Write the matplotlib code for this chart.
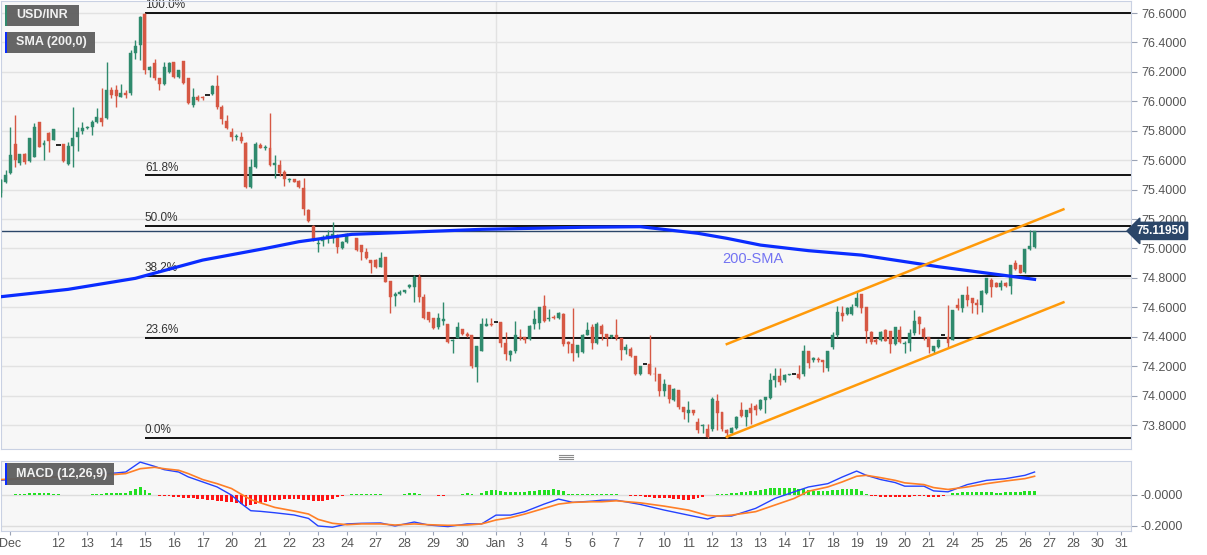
import numpy as np
import matplotlib.pyplot as plt
from matplotlib.patches import Rectangle
from matplotlib.lines import Line2D
import matplotlib.transforms as mtransforms

plt.rcParams['font.family'] = ['Liberation Sans', 'DejaVu Sans']

# ---- candles (one per 4h bar) ----
opens = [75.375, 75.45, 75.51, 75.71, 75.578, 75.64, 75.596, 75.62, 75.857, 75.70,
         75.786, 75.737, 75.70, 75.71, 75.573, 75.697, 75.757, 75.80, 75.816, 75.827,
         75.861, 75.89, 75.884, 76.08, 76.08, 76.03, 76.055, 76.054, 76.33, 76.38,
         76.593, 76.213, 76.262, 76.156, 76.117, 76.20, 76.265, 76.167, 76.274, 76.156,
         75.975, 76.03, 76.03, 76.043, 76.05, 76.104, 75.96, 75.868, 75.79, 75.755,
         75.76, 75.718, 75.42, 75.555, 75.703, 75.68, 75.68, 75.566, 75.566, 75.52,
         75.463, 75.47, 75.458, 75.408, 75.261, 75.155, 75.03, 75.053, 75.068, 75.068,
         75.086, 75.0, 75.045, np.nan, 75.074, 75.023, 74.978, 74.92, 74.92, 74.875,
         74.94, 74.778, 74.68, 74.69, 74.706, 74.735, 74.735, 74.804, 74.672, 74.57,
         74.525, 74.468, 74.51, 74.484, 74.37, 74.39, 74.455, 74.422, 74.41, 74.195,
         74.305, 74.476, 74.49, 74.50, 74.50, 74.357, 74.275, 74.305, 74.40, 74.395,
         74.385, 74.49, 74.495, 74.61, 74.52, 74.535, 74.525, 74.555, 74.365, 74.35,
         74.29, 74.295, 74.415, 74.467, 74.36, 74.47, 74.42, 74.395, 74.41, 74.39,
         74.31, 74.32, 74.27, 74.144, 74.217, 74.217, 74.15, 74.144, 74.03, 74.07,
         73.97, 74.04, 73.925, 73.885, 73.90, 73.822, 73.79, 73.77, 73.77, 73.963,
         73.89, 73.765, 73.745, 73.78, 73.90, 73.855, 73.915, 73.93, 73.91, 73.97,
         73.985, 74.105, 74.13, 74.105, 74.14, 74.15, 74.147, 74.15, 74.305, 74.24,
         74.25, 74.24, 74.185, 74.33, 74.41, 74.56, 74.555, 74.555, 74.607, 74.688,
         74.60, 74.434, 74.377, 74.377, 74.446, 74.44, 74.35, 74.446, 74.35, 74.357,
         74.425, 74.535, 74.456, 74.395, 74.30, 74.33, 74.41, 74.40, 74.38, 74.615,
         74.593, 74.683, 74.665, 74.63, 74.615, 74.695, 74.785, 74.763, 74.74, 74.768,
         74.745, 74.904, 74.886, 74.84, 74.995, 75.01]
highs = [75.47, 75.533, 75.827, 75.907, 75.64, 75.65, 75.75, 75.85, 75.86, 75.737,
         75.79, 75.81, 75.70, 75.71, 75.725, 75.963, 75.827, 75.86, 75.83, 75.873,
         75.952, 76.09, 76.267, 76.10, 76.11, 76.117, 76.08, 76.35, 76.417, 76.58,
         76.60, 76.24, 76.29, 76.16, 76.265, 76.265, 76.27, 76.213, 76.274, 76.16,
         76.088, 76.04, 76.035, 76.043, 76.11, 76.176, 75.975, 75.907, 75.816, 75.775,
         75.79, 75.725, 75.605, 75.725, 75.715, 75.70, 75.923, 75.635, 75.60, 75.53,
         75.48, 75.47, 75.465, 75.476, 75.27, 75.16, 75.068, 75.09, 75.125, 75.18,
         75.10, 75.05, 75.105, np.nan, 75.074, 75.023, 75.0, 74.925, 74.93, 74.978,
         74.94, 74.778, 74.706, 74.715, 74.72, 74.76, 74.82, 74.826, 74.69, 74.57,
         74.525, 74.56, 74.634, 74.49, 74.385, 74.50, 74.455, 74.43, 74.41, 74.338,
         74.525, 74.525, 74.525, 74.50, 74.50, 74.43, 74.31, 74.51, 74.455, 74.40,
         74.48, 74.58, 74.60, 74.683, 74.588, 74.545, 74.565, 74.56, 74.37, 74.593,
         74.345, 74.42, 74.50, 74.49, 74.50, 74.49, 74.42, 74.415, 74.52, 74.39,
         74.35, 74.33, 74.27, 74.20, 74.217, 74.41, 74.195, 74.144, 74.11, 74.07,
         74.05, 74.04, 73.925, 73.96, 73.90, 73.845, 73.806, 73.806, 73.992, 74.008,
         73.89, 73.77, 73.785, 73.86, 73.955, 73.905, 73.95, 73.944, 73.975, 73.993,
         74.155, 74.185, 74.185, 74.15, 74.15, 74.15, 74.21, 74.344, 74.305, 74.26,
         74.26, 74.245, 74.305, 74.434, 74.61, 74.61, 74.60, 74.62, 74.706, 74.69,
         74.60, 74.44, 74.39, 74.44, 74.45, 74.44, 74.467, 74.47, 74.37, 74.455,
         74.58, 74.54, 74.466, 74.40, 74.34, 74.385, 74.41, 74.615, 74.58, 74.66,
         74.683, 74.745, 74.665, 74.655, 74.717, 74.80, 74.797, 74.77, 74.785, 74.775,
         74.89, 74.925, 74.89, 74.995, 75.125, 75.12]
lows = [75.35, 75.447, 75.506, 75.555, 75.57, 75.575, 75.59, 75.62, 75.69, 75.60,
        75.657, 75.737, 75.70, 75.59, 75.566, 75.555, 75.664, 75.78, 75.81, 75.77,
        75.85, 75.83, 75.88, 76.02, 75.96, 76.027, 76.02, 76.04, 76.29, 76.28,
        76.185, 76.163, 76.145, 76.077, 76.11, 76.19, 76.16, 76.16, 76.12, 75.98,
        75.96, 76.0, 76.01, 76.043, 76.045, 75.95, 75.845, 75.81, 75.732, 75.74,
        75.72, 75.41, 75.41, 75.55, 75.68, 75.67, 75.56, 75.476, 75.49, 75.426,
        75.455, 75.45, 75.41, 75.227, 75.18, 75.05, 74.978, 75.018, 75.034, 75.035,
        74.967, 74.995, 75.04, np.nan, 74.985, 74.92, 74.93, 74.83, 74.87, 74.875,
        74.77, 74.563, 74.61, 74.685, 74.70, 74.73, 74.634, 74.638, 74.52, 74.50,
        74.455, 74.455, 74.48, 74.36, 74.29, 74.39, 74.41, 74.40, 74.19, 74.09,
        74.30, 74.475, 74.475, 74.50, 74.33, 74.245, 74.236, 74.29, 74.38, 74.36,
        74.38, 74.45, 74.45, 74.50, 74.51, 74.52, 74.52, 74.34, 74.287, 74.237,
        74.264, 74.29, 74.41, 74.32, 74.35, 74.38, 74.34, 74.39, 74.38, 74.245,
        74.28, 74.26, 74.14, 74.14, 74.217, 74.14, 74.10, 74.0, 74.0, 73.947,
        73.965, 73.91, 73.84, 73.82, 73.87, 73.748, 73.745, 73.71, 73.76, 73.765,
        73.76, 73.715, 73.74, 73.775, 73.855, 73.79, 73.81, 73.87, 73.905, 73.88,
        73.975, 74.06, 74.07, 74.095, 74.14, 74.15, 74.11, 74.13, 74.185, 74.23,
        74.23, 74.16, 74.17, 74.32, 74.40, 74.51, 74.55, 74.547, 74.605, 74.564,
        74.36, 74.35, 74.35, 74.37, 74.37, 74.287, 74.345, 74.355, 74.29, 74.30,
        74.41, 74.42, 74.378, 74.29, 74.28, 74.325, 74.41, 74.33, 74.375, 74.58,
        74.57, 74.61, 74.56, 74.555, 74.565, 74.69, 74.67, 74.735, 74.72, 74.74,
        74.69, 74.855, 74.83, 74.83, 74.99, 75.0]
closes = [75.465, 75.50, 75.635, 75.60, 75.64, 75.59, 75.748, 75.827, 75.69, 75.72,
          75.732, 75.81, 75.70, 75.596, 75.697, 75.748, 75.793, 75.82, 75.827, 75.861,
          75.891, 75.86, 76.08, 76.04, 76.035, 76.054, 76.04, 76.326, 76.376, 76.575,
          76.213, 76.235, 76.156, 76.117, 76.235, 76.258, 76.163, 76.213, 76.126, 75.986,
          76.03, 76.01, 76.02, 76.043, 76.104, 75.963, 75.878, 75.816, 75.755, 75.765,
          75.732, 75.42, 75.555, 75.71, 75.68, 75.69, 75.566, 75.582, 75.514, 75.47,
          75.47, 75.454, 75.42, 75.266, 75.188, 75.057, 75.04, 75.075, 75.09, 75.097,
          75.012, 75.045, 75.10, np.nan, 74.99, 74.978, 74.933, 74.90, 74.875, 74.933,
          74.774, 74.668, 74.69, 74.706, 74.717, 74.75, 74.808, 74.668, 74.53, 74.514,
          74.46, 74.525, 74.52, 74.366, 74.38, 74.467, 74.422, 74.405, 74.20, 74.338,
          74.49, 74.485, 74.48, 74.50, 74.357, 74.285, 74.30, 74.41, 74.39, 74.38,
          74.473, 74.518, 74.60, 74.51, 74.53, 74.525, 74.56, 74.35, 74.35, 74.29,
          74.345, 74.415, 74.447, 74.36, 74.49, 74.42, 74.39, 74.41, 74.39, 74.31,
          74.33, 74.27, 74.144, 74.20, 74.217, 74.144, 74.144, 74.033, 74.077, 73.974,
          74.045, 73.92, 73.89, 73.90, 73.88, 73.766, 73.80, 73.72, 73.974, 73.883,
          73.77, 73.743, 73.78, 73.857, 73.86, 73.90, 73.88, 73.90, 73.97, 73.99,
          74.106, 74.13, 74.095, 74.14, 74.147, 74.15, 74.117, 74.305, 74.22, 74.255,
          74.24, 74.23, 74.305, 74.41, 74.57, 74.54, 74.593, 74.605, 74.66, 74.593,
          74.44, 74.366, 74.366, 74.434, 74.373, 74.35, 74.467, 74.366, 74.357, 74.425,
          74.51, 74.49, 74.396, 74.33, 74.337, 74.38, 74.41, 74.36, 74.58, 74.593,
          74.683, 74.65, 74.63, 74.615, 74.713, 74.797, 74.74, 74.74, 74.763, 74.745,
          74.89, 74.863, 74.835, 74.995, 75.02, 75.1195]

# 200-period SMA, read at a few bars
sma_pos = [0, 14, 28, 42, 55, 62, 73, 79, 100, 121, 133, 145, 151, 158, 168, 179, 195, 215]
sma_val = [74.672, 74.722, 74.797, 74.921, 75.0, 75.046, 75.096, 75.103, 75.13, 75.144,
           75.148, 75.103, 75.069, 75.023, 74.985, 74.955, 74.876, 74.79]

# MACD (12,26,9) lines, read at a few bars
macd_pos = [0, 24, 26, 29, 32, 34, 37, 39, 42, 45, 48, 50, 52, 54, 57, 61, 64, 66, 69, 72,
            75, 79, 82, 86, 89, 93, 97, 100, 103, 106, 109, 113, 116, 119, 123, 125, 128,
            133, 138, 143, 147, 149, 152, 157, 161, 165, 168, 172, 175, 178, 180, 183, 186,
            188, 192, 194, 197, 201, 205, 209, 213, 215]
macd_val = [0.091, 0.137, 0.143, 0.206, 0.179, 0.158, 0.143, 0.112, 0.080, 0.048, -0.004,
            -0.057, -0.103, -0.107, -0.116, -0.130, -0.152, -0.200, -0.208, -0.187, -0.183,
            -0.181, -0.200, -0.175, -0.194, -0.204, -0.187, -0.187, -0.131, -0.131, -0.109,
            -0.061, -0.029, -0.050, -0.042, -0.036, -0.036, -0.063, -0.099, -0.131, -0.156,
            -0.137, -0.137, -0.088, -0.025, 0.017, 0.048, 0.069, 0.111, 0.149, 0.122, 0.095,
            0.076, 0.053, 0.053, 0.023, 0.017, 0.063, 0.090, 0.101, 0.122, 0.143]
signal_val = [0.095, 0.128, 0.133, 0.164, 0.173, 0.164, 0.154, 0.133, 0.095, 0.069, 0.038,
              0.002, -0.032, -0.053, -0.082, -0.105, -0.124, -0.158, -0.183, -0.192, -0.187,
              -0.187, -0.194, -0.187, -0.192, -0.196, -0.194, -0.187, -0.162, -0.147, -0.124,
              -0.088, -0.061, -0.050, -0.046, -0.046, -0.040, -0.053, -0.074, -0.099, -0.133,
              -0.137, -0.131, -0.109, -0.067, -0.025, 0.021, 0.048, 0.080, 0.116, 0.122, 0.107,
              0.090, 0.074, 0.063, 0.044, 0.032, 0.048, 0.069, 0.086, 0.101, 0.116]
hist_val = [-10, -5, 0, 2, 3, 5, 8, 10, 10, 8, 8, 6, 2, -3, -5, -6, -5, -3,
            0, 2, 4, 6, 8, 10, 10, 11, 12, 20, 32, 45, 30, 10, -3, -8, -10, -12,
            -15, -18, -20, -22, -25, -28, -30, -32, -35, -40, -42, -45, -50, -55, -60, -70, -65, -58,
            -55, -50, -40, -35, -33, -30, -27, -28, -30, -32, -35, -40, -42, -40, -35, -28, -15, -8,
            0, 3, 4, 5, 6, 6, 5, 3, -2, -6, -6, -4, 6, 10, 12, 6, 0, -2,
            -5, -8, -8, -6, -3, 0, 5, 7, 3, 0, 10, 20, 28, 30, 25, 18, 15, 15,
            15, 18, 22, 25, 27, 28, 30, 32, 30, 20, 5, 2, 2, 3, 4, 5, 6, 6,
            5, 4, 2, 0, -5, -8, -10, -12, -15, -18, -20, -22, -24, -25, -28, -30, -32, -32,
            -28, -22, -15, -5, 0, 2, 3, 5, 8, 10, 15, 18, 20, 25, 30, 35, 40, 42,
            43, 44, 42, 40, 38, 35, 30, 25, 22, 22, 24, 28, 30, 32, 33, 33, 33, 20,
            5, -10, -12, -14, -15, -16, -16, -16, -15, -14, -12, -10, -12, -14, -15, -15, -12, -5,
            8, 12, 14, 15, 15, 16, 18, 16, 14, 12, 12, 14, 15, 16, 18, 20, 22, 24]

# Fibonacci retracement of the 76.60 top / 73.71 bottom
fib_high = 76.60
fib_low = 73.71
fib_ratios = [1.0, 0.618, 0.5, 0.382, 0.236, 0.0]
fib_labels = ['100.0%', '61.8%', '50.0%', '38.2%', '23.6%', '0.0%']
fib_start = 30

# rising channel
chan_pos = [151, 221]
chan_upper = [74.35, 75.266]
chan_lower = [73.72, 74.634]

last_price = 75.1195

tick_pos = [2, 12, 18, 24, 30, 36, 42, 48, 54, 60, 66, 72, 78, 84, 90, 96, 103, 108, 113,
            118, 123, 128, 133, 138, 143, 148, 153, 158, 163, 168, 173, 178, 183, 188, 193,
            198, 203, 208, 213, 218, 223, 228, 233]
tick_labels = ['Dec', '12', '13', '14', '15', '16', '17', '20', '21', '22', '23', '24', '27',
               '28', '29', '30', 'Jan', '3', '4', '5', '6', '7', '7', '10', '11', '12', '13',
               '13', '14', '17', '18', '19', '19', '20', '21', '24', '25', '25', '26', '27',
               '28', '30', '31']

W, H = 1207, 555
fig = plt.figure(figsize=(W / 100, H / 100), dpi=100)
fig.patch.set_facecolor('white')

ax = fig.add_axes([0.001, 1 - 449 / H, 1130 / W, 448 / H])
axm = fig.add_axes([0.001, 1 - 531 / H, 1130 / W, 70 / H])

green = '#2f8a6d'
red = '#d65844'
border = '#c9d1e3'

x = np.arange(len(closes))
o = np.array(opens)
c = np.array(closes)
hi = np.array(highs)
lo = np.array(lows)

for a in (ax, axm):
    a.set_facecolor('#f7f7f7')
    a.set_xlim(0.1, 235.1)
    for s in a.spines.values():
        s.set_color(border)
    a.axvline(103, color='#e2e2e2', lw=1, zorder=0)

# candles
valid = ~np.isnan(c)
doji = valid & (np.abs(c - o) < 0.002)
up = valid & (c > o) & ~doji
down = valid & (c < o) & ~doji
for mask, col in ((up, green), (down, red)):
    ax.vlines(x[mask], lo[mask], hi[mask], color=col, lw=1, zorder=3)
    body = np.maximum(np.abs(c[mask] - o[mask]), 0.005)
    ax.bar(x[mask], body, bottom=np.minimum(o[mask], c[mask]), width=0.62,
           color=col, edgecolor=col, lw=0.3, zorder=4)
ax.hlines(c[doji], x[doji] - 0.45, x[doji] + 0.45, color='black', lw=1.2, zorder=4)

# fib levels
for r, lab in zip(fib_ratios, fib_labels):
    lvl = fib_low + (fib_high - fib_low) * r
    ax.hlines(lvl, fib_start, 235.1, color='black', lw=1.3, zorder=2)
    ax.text(fib_start, lvl + 0.012, lab, fontsize=8.5, color='#333333',
            ha='left', va='bottom', zorder=2)

# SMA, last price, channel
ax.plot(sma_pos, sma_val, color='#0a2cff', lw=2.3, zorder=5)
ax.axhline(last_price, color='#2b4669', lw=1, zorder=2)
ax.plot(chan_pos, chan_upper, color='#ff9a0a', lw=1.8, zorder=5)
ax.plot(chan_pos, chan_lower, color='#ff9a0a', lw=1.8, zorder=5)
ax.text(150, 74.926, '200-SMA', color='#7373f2', fontsize=10.5, va='center', ha='left')

ax.set_ylim(73.637, 76.682)
ax.set_yticks(np.arange(73.8, 76.61, 0.2))
ax.yaxis.grid(True, color='#e2e2e2', lw=1)
ax.set_axisbelow(True)
ax.yaxis.tick_right()
ax.set_yticklabels(['%.4f' % v for v in np.arange(73.8, 76.61, 0.2)])
ax.tick_params(axis='y', labelsize=9, colors='#555555', length=4, pad=3)
ax.tick_params(axis='y', color='#9aa3b5')
ax.set_xticks([])

trans = mtransforms.blended_transform_factory(ax.transAxes, ax.transData)
ax.text(1.0045, last_price, '75.11950', transform=trans, fontsize=8.5, fontweight='bold',
        color='white', va='center', ha='left', zorder=10, clip_on=False,
        bbox=dict(boxstyle='larrow,pad=0.22', fc='#2b4669', ec='#2b4669'))

# MACD panel
hv = np.array(hist_val) / 1000.0
axm.bar(x, hv, width=0.6, color=np.where(hv >= 0, '#22e022', '#ff1414'), zorder=2)
axm.plot(macd_pos, macd_val, color='#2442ff', lw=1, zorder=3)
axm.plot(macd_pos, signal_val, color='#ff7f27', lw=1.2, zorder=3)
axm.set_ylim(-0.232, 0.213)
axm.set_yticks([0.0, -0.2])
axm.yaxis.grid(True, color='#dddddd', lw=1)
axm.set_axisbelow(True)
axm.yaxis.tick_right()
axm.set_yticklabels(['-0.0000', '-0.2000'])
axm.tick_params(axis='y', labelsize=9, colors='#555555', length=4, pad=3)
axm.tick_params(axis='y', color='#9aa3b5')
axm.set_xticks(tick_pos)
axm.set_xticklabels(tick_labels)
axm.tick_params(axis='x', labelsize=9, colors='#555555', length=3, pad=2)
axm.tick_params(axis='x', color='#9aa3b5')


def px_rect(x0, y0, x1, y1, col, z=10, alpha=1.0):
    fig.add_artist(Rectangle((x0 / W, 1 - y1 / H), (x1 - x0) / W, (y1 - y0) / H,
                             transform=fig.transFigure, fc=col, ec='none',
                             zorder=z, alpha=alpha))


# legend tags
tags = [(5, 5, 79, 26, green, 'USD/INR'),
        (5, 32, 95, 53, '#0a2cff', 'SMA (200,0)'),
        (5, 463, 114, 485, '#0a2cff', 'MACD (12,26,9)')]
for x0, y0, x1, y1, col, lab in tags:
    px_rect(x0, y0, x1, y1, '#5e5e5e', alpha=0.95)
    px_rect(x0, y0, x0 + 2, y1, col, z=11)
    fig.text(16 / W, 1 - (y0 + y1) / 2 / H, lab, fontsize=9, fontweight='bold',
             color='#f2f2f2', va='center', ha='left', zorder=12)

# panel grip
for yy in (455, 457, 459):
    fig.add_artist(Line2D([559 / W, 573 / W], [1 - yy / H, 1 - yy / H],
                          transform=fig.transFigure, color='#8a8a8a', lw=0.8))

fig.savefig('out.png', dpi=100)
